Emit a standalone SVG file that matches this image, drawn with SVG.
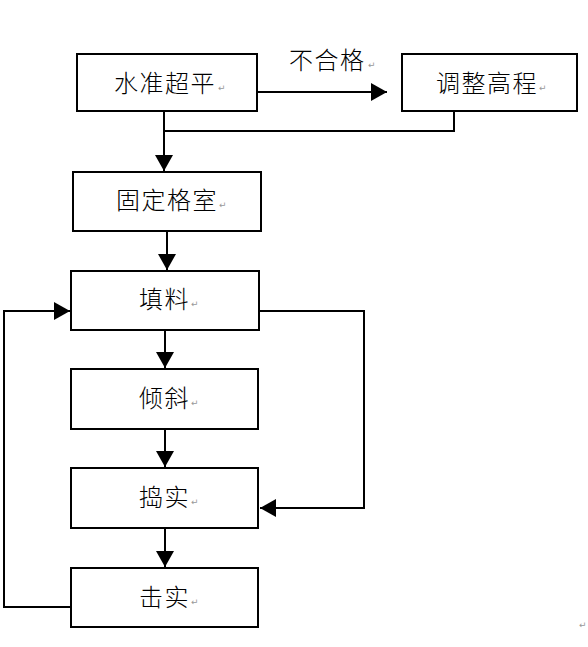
<svg xmlns="http://www.w3.org/2000/svg" width="588" height="647" viewBox="0 0 588 647">
<style>
.box{fill:#fff;stroke:#000;stroke-width:2}
.t{font-family:"Noto Sans CJK SC","Noto Sans CJK JP",sans-serif;font-size:24px;font-weight:300;letter-spacing:1.5px;fill:#000}
.rm{font-family:"DejaVu Sans",sans-serif;font-size:9px;fill:#999}
.c{fill:none;stroke:#000;stroke-width:2}
</style>
<defs>
<marker id="ah" markerUnits="userSpaceOnUse" markerWidth="17" markerHeight="18" refX="16" refY="9" orient="auto">
<path d="M0,0 L16,9 L0,18 z" fill="#000"/>
</marker>
</defs>
<rect width="588" height="647" fill="#fff"/>
<g id="connectors">
<path class="c" d="M257,92 H387" marker-end="url(#ah)"/>
<path class="c" d="M164,111 V171" marker-end="url(#ah)"/>
<path class="c" d="M454,111 V131 H164"/>
<path class="c" d="M167,231 V270" marker-end="url(#ah)"/>
<path class="c" d="M165,330 V368" marker-end="url(#ah)"/>
<path class="c" d="M165,429 V467" marker-end="url(#ah)"/>
<path class="c" d="M165,528 V567" marker-end="url(#ah)"/>
<path class="c" d="M259,311 H364 V508 H260" marker-end="url(#ah)"/>
<path class="c" d="M71,607 H4 V311 H70" marker-end="url(#ah)"/>
<text class="t" x="289" y="69">不合格</text>
<text class="rm" x="368" y="68">↵</text>
</g>
<g id="n1">
<rect class="box" x="77" y="54" width="180" height="57"/>
<text class="t" x="114" y="92">水准超平</text>
<text class="rm" x="218" y="91">↵</text>
</g>
<g id="n2">
<rect class="box" x="402" y="54" width="175" height="57"/>
<text class="t" x="436" y="92">调整高程</text>
<text class="rm" x="539" y="91">↵</text>
</g>
<g id="n3">
<rect class="box" x="73" y="172" width="188" height="59"/>
<text class="t" x="116" y="209">固定格室</text>
<text class="rm" x="219" y="208">↵</text>
</g>
<g id="n4">
<rect class="box" x="71" y="271" width="188" height="59"/>
<text class="t" x="139" y="308">填料</text>
<text class="rm" x="191" y="307">↵</text>
</g>
<g id="n5">
<rect class="box" x="71" y="369" width="187" height="60"/>
<text class="t" x="139" y="407">倾斜</text>
<text class="rm" x="191" y="406">↵</text>
</g>
<g id="n6">
<rect class="box" x="71" y="468" width="187" height="60"/>
<text class="t" x="139" y="506">捣实</text>
<text class="rm" x="191" y="505">↵</text>
</g>
<g id="n7">
<rect class="box" x="71" y="568" width="187" height="59"/>
<text class="t" x="139" y="606">击实</text>
<text class="rm" x="191" y="605">↵</text>
</g>
<text class="rm" x="579" y="628">↵</text>
</svg>
